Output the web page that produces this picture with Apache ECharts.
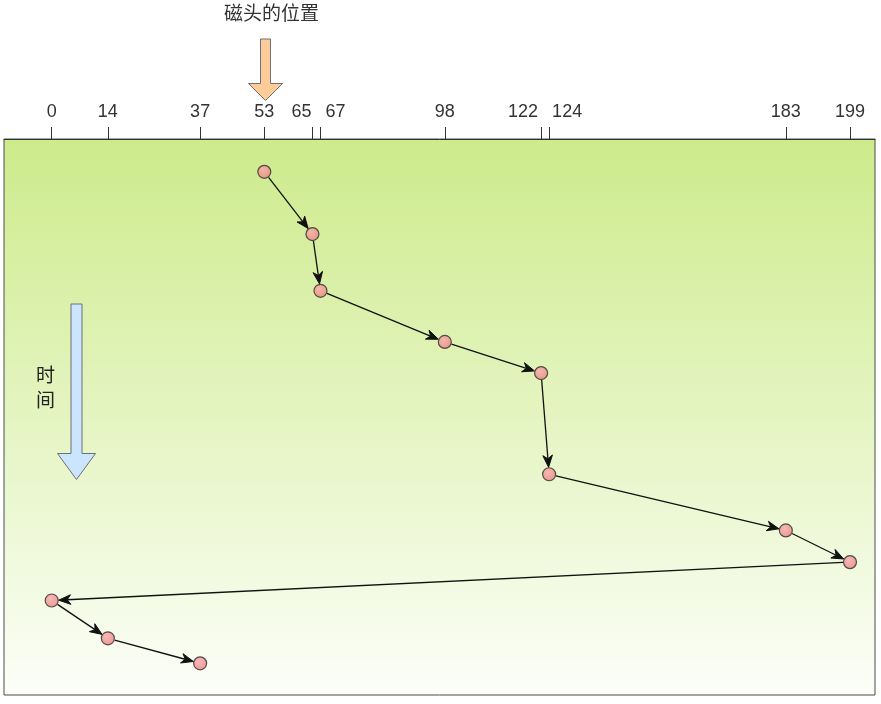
<!DOCTYPE html>
<html>
<head>
<meta charset="utf-8">
<script src="https://cdn.jsdelivr.net/npm/echarts@6/dist/echarts.min.js"></script>
<style>html,body{margin:0;padding:0;background:#fff;}#main{width:881px;height:704px;}</style>
</head>
<body>
<div id="main"></div>
<script>
// Request order served by the head (track numbers), starting at head position 53
const tracks = [53, 65, 67, 98, 122, 124, 183, 199, 0, 14, 37];
// Relative time of each service (read from vertical positions, 0 = top, 100 = bottom)
const times = [5.9, 17.1, 27.3, 36.5, 42.1, 60.3, 70.4, 76.1, 83.0, 89.8, 94.3];
// Tick labels shown on the track axis
const tickLabels = [0, 14, 37, 53, 65, 67, 98, 122, 124, 183, 199];
const headLabel = '磁头的位置';
const timeLabel = '时间';

const points = tracks.map((t, i) => [t, times[i]]);
const segments = [];
for (let i = 0; i < tracks.length - 1; i++) {
  segments.push([tracks[i], times[i], tracks[i + 1], times[i + 1]]);
}

const nudge = { 65: 'l', 67: 'r', 122: 'L', 124: 'R' };
const labelFont = 'Liberation Sans, Arial, sans-serif';

const chart = echarts.init(document.getElementById('main'), null, { renderer: 'canvas' });
const option = {
  animation: false,
  backgroundColor: '#ffffff',
  grid: {
    left: 4, right: 6, top: 139, bottom: 9,
    show: true,
    borderColor: '#4a4c50',
    borderWidth: 1,
    backgroundColor: {
      type: 'linear', x: 0, y: 0, x2: 0, y2: 1,
      colorStops: [
        { offset: 0, color: '#cdeb8b' },
        { offset: 1, color: '#fcfef8' }
      ]
    }
  },
  xAxis: {
    type: 'value',
    position: 'top',
    min: -11.89,
    max: 205.23,
    splitLine: { show: false },
    axisLine: { show: true, lineStyle: { color: '#333333', width: 1 } },
    axisTick: {
      show: true,
      length: 12,
      customValues: tickLabels,
      lineStyle: { color: '#333333', width: 1 }
    },
    axisLabel: {
      show: true,
      margin: 18,
      customValues: tickLabels,
      color: '#333333',
      fontSize: 18,
      fontFamily: labelFont,
      formatter: function (v) {
        const k = nudge[v];
        return k ? '{' + k + '|' + v + '}' : String(v);
      },
      rich: {
        l: { fontSize: 18, color: '#333333', fontFamily: labelFont, padding: [0, 22, 0, 0] },
        r: { fontSize: 18, color: '#333333', fontFamily: labelFont, padding: [0, 0, 0, 30] },
        L: { fontSize: 18, color: '#333333', fontFamily: labelFont, padding: [0, 36, 0, 0] },
        R: { fontSize: 18, color: '#333333', fontFamily: labelFont, padding: [0, 0, 0, 36] }
      }
    }
  },
  yAxis: {
    type: 'value',
    inverse: true,
    min: 0,
    max: 100,
    show: false
  },
  series: [
    {
      type: 'custom',
      z: 3,
      data: segments,
      encode: { x: [0, 2], y: [1, 3] },
      renderItem: function (params, api) {
        const p1 = api.coord([api.value(0), api.value(1)]);
        const p2 = api.coord([api.value(2), api.value(3)]);
        const dx = p2[0] - p1[0], dy = p2[1] - p1[1];
        const len = Math.sqrt(dx * dx + dy * dy);
        const ux = dx / len, uy = dy / len;
        const nx = -uy, ny = ux;
        const r = 7;
        const s = [p1[0] + ux * r, p1[1] + uy * r];
        const tip = [p2[0] - ux * r, p2[1] - uy * r];
        const L = 12, W = 4.8, N = 3.5;
        const back = [tip[0] - ux * L, tip[1] - uy * L];
        const notch = [tip[0] - ux * (L - N), tip[1] - uy * (L - N)];
        return {
          type: 'group',
          children: [
            {
              type: 'line',
              shape: { x1: s[0], y1: s[1], x2: notch[0], y2: notch[1] },
              style: { stroke: '#111111', lineWidth: 1.3 }
            },
            {
              type: 'polygon',
              shape: {
                points: [tip, [back[0] + nx * W, back[1] + ny * W], notch, [back[0] - nx * W, back[1] - ny * W]]
              },
              style: { fill: '#111111', stroke: '#111111', lineWidth: 1 }
            }
          ]
        };
      }
    },
    {
      type: 'scatter',
      z: 4,
      data: points,
      symbol: 'circle',
      symbolSize: 13,
      itemStyle: {
        color: {
          type: 'radial', x: 0.4, y: 0.35, r: 0.7,
          colorStops: [
            { offset: 0, color: '#f7a9a9' },
            { offset: 1, color: '#ea7f7f' }
          ]
        },
        borderColor: '#2b2b2b',
        borderWidth: 1.2
      }
    }
  ],
  graphic: [
    {
      type: 'text',
      left: 272 - 48, top: 3,
      style: {
        text: headLabel,
        fill: '#333333',
        font: '19px "Noto Sans CJK SC", sans-serif'
      }
    },
    {
      type: 'polygon',
      shape: {
        points: [[260.5, 39], [270.5, 39], [270.5, 83.5], [282.5, 83.5], [265.5, 100.5], [248.5, 83.5], [260.5, 83.5]]
      },
      style: { fill: '#ffcc99', stroke: '#6d6f73', lineWidth: 1 },
      z: 10
    },
    {
      type: 'polygon',
      shape: {
        points: [[71, 304], [82, 304], [82, 453.5], [95.5, 453.5], [76.5, 479.5], [57.5, 453.5], [71, 453.5]]
      },
      style: { fill: '#cce5ff', stroke: '#6d6f73', lineWidth: 1 },
      z: 10
    },
    {
      type: 'text',
      left: 36, top: 362,
      style: {
        text: timeLabel.split('').join('\n'),
        fill: '#222222',
        lineHeight: 25,
        font: '19px "Noto Sans CJK SC", sans-serif'
      },
      z: 10
    }
  ]
};
chart.setOption(option);
</script>
</body>
</html>
